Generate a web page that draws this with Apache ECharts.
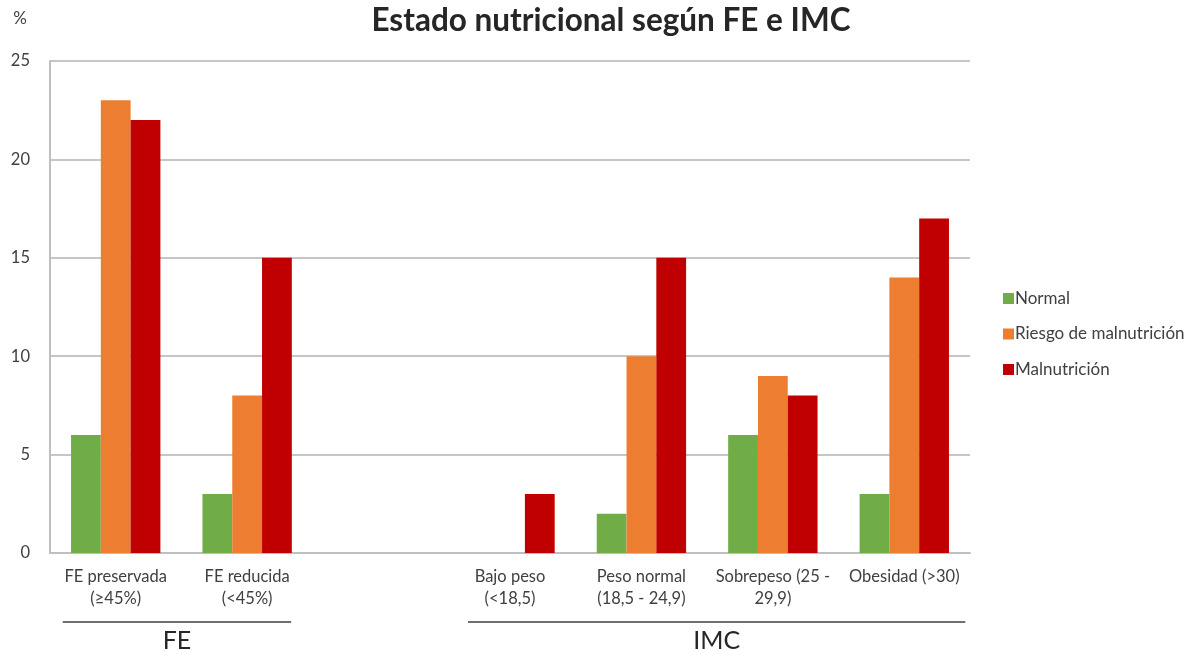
<!DOCTYPE html>
<html><head><meta charset="utf-8">
<script src="https://cdn.jsdelivr.net/npm/echarts@6/dist/echarts.min.js"></script>
<style>html,body{margin:0;padding:0;background:#fff}#c{width:1192px;height:651px}</style>
</head><body><div id="c"></div>
<script>
const categories = ['FE preservada\n(≥45%)', 'FE reducida\n(<45%)', '', 'Bajo peso\n(<18,5)', 'Peso normal\n(18,5 - 24,9)', 'Sobrepeso (25 -\n29,9)', 'Obesidad (>30)'];
const normal = [6, 3, null, null, 2, 6, 3];
const riesgo = [23, 8, null, null, 10, 9, 14];
const malnutricion = [22, 15, null, 3, 15, 8, 17];
const seriesNames = ['Normal', 'Riesgo de malnutrición', 'Malnutrición'];
const yTicks = [0, 5, 10, 15, 20, 25];
const groups = [{name: 'FE', from: 0, to: 1}, {name: 'IMC', from: 3, to: 6}];

const FONT = 'Lato, "Open Sans", sans-serif';
const chart = echarts.init(document.getElementById('c'));
const option = {
  animation: false,
  title: {text: 'Estado nutricional según FE e IMC', left: 606, top: 0, textAlign: 'center',
    textStyle: {fontFamily: FONT, fontSize: 31.5, fontWeight: 'bold', color: '#262626'}},
  legend: {orient: 'vertical', left: 998, top: 285, itemGap: 18.5, itemWidth: 11, itemHeight: 11,
    icon: 'rect', textStyle: {fontFamily: FONT, fontSize: 17, color: '#404040', padding: [0,0,0,-4]},
    data: seriesNames},
  grid: {left: 50, right: 222, top: 61, bottom: 98, containLabel: false},
  xAxis: {type: 'category', data: categories,
    axisLine: {lineStyle: {color: '#bfbfbf', width: 2}}, axisTick: {show: false},
    axisLabel: {interval: 0, fontFamily: FONT, fontSize: 16.5, color: '#404040', margin: 13, lineHeight: 22}},
  yAxis: {type: 'value', min: yTicks[0], max: yTicks[yTicks.length-1], interval: 5,
    name: '%', nameLocation: 'end', nameGap: 34, nameTextStyle: {fontFamily: FONT, fontSize: 17, color: '#404040', padding: [0, 0, 0, -60]},
    axisLine: {show: true, lineStyle: {color: '#bfbfbf', width: 2}}, axisTick: {show: false},
    splitLine: {lineStyle: {color: '#c6c6c6', width: 2}},
    axisLabel: {fontFamily: FONT, fontSize: 16.5, color: '#404040', margin: 20}},
  series: [
    {name: seriesNames[0], type: 'bar', data: normal, itemStyle: {color: '#70AD47'}, barGap: '0%', barCategoryGap: '32%'},
    {name: seriesNames[1], type: 'bar', data: riesgo, itemStyle: {color: '#ED7D31'}, barGap: '0%', barCategoryGap: '32%'},
    {name: seriesNames[2], type: 'bar', data: malnutricion, itemStyle: {color: '#C00000'}, barGap: '0%', barCategoryGap: '32%'}
  ]
};
chart.setOption(option);

// group brackets under the category labels
const g = [];
const lineY = 622, textY = 641;
const pads = [[53, 44], [42, 61]];
groups.forEach((gr, i) => {
  const x1 = chart.convertToPixel({xAxisIndex: 0}, categories[gr.from]) - pads[i][0];
  const x2 = chart.convertToPixel({xAxisIndex: 0}, categories[gr.to]) + pads[i][1];
  g.push({type: 'line', shape: {x1: x1, y1: lineY, x2: x2, y2: lineY}, style: {stroke: '#404040', lineWidth: 1.5}});
  g.push({type: 'text', style: {text: gr.name, x: (x1 + x2) / 2, y: textY, align: 'center', verticalAlign: 'middle',
    fontFamily: FONT, fontSize: 25, fill: '#262626'}});
});
chart.setOption({graphic: g});
</script></body></html>
